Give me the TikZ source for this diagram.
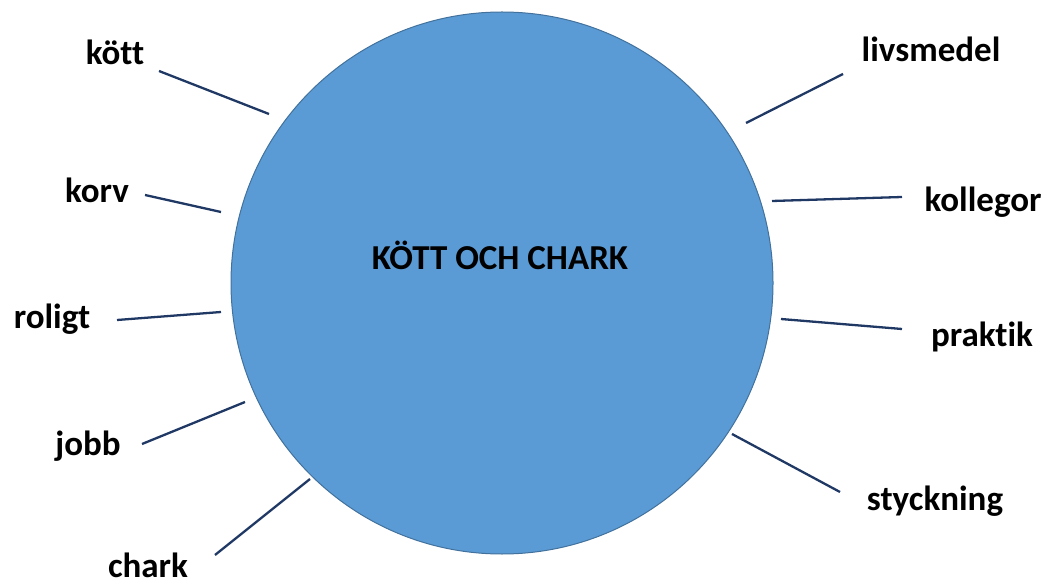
\documentclass[tikz,border=0pt]{standalone}
\usepackage{fontspec}
\setmainfont[RawFeature=-liga]{Carlito}
\usetikzlibrary{positioning}

\definecolor{hubfill}{HTML}{5B9BD5}
\definecolor{hubline}{HTML}{41719C}
\definecolor{spoke}{HTML}{1F3864}

\begin{document}
\begin{tikzpicture}[x=1pt,y=-1pt,
	hub/.style={circle,fill=hubfill,draw=hubline,line width=1pt,minimum size=542pt,inner sep=0pt},
	word/.style={font=\fontsize{35}{40}\selectfont\bfseries,inner sep=0pt,anchor=base},
	spoke/.style={draw=spoke,line width=2.3pt}]
		\useasboundingbox (0,0) rectangle (1052,585);
		\node[hub] (hub) at (502,283) {};
		\node[word] (title) at (500,270) {KÖTT OCH CHARK};

		\node[word] (wKott) at (115,65) {kött};
		\node[word] (wKorv) at (97,203) {korv};
		\node[word] (wRoligt) at (52,328) {roligt};
		\node[word] (wJobb) at (88,455) {jobb};
		\node[word] (wChark) at (148,577) {chark};
		\node[word] (wLivs) at (931,62) {livsmedel};
		\node[word] (wKoll) at (983,212) {kollegor};
		\node[word] (wPrak) at (982,346) {praktik};
		\node[word] (wStyck) at (935,510) {styckning};

		% spoke ends
		\coordinate (kA) at (159,71);  \coordinate (kB) at (269,114);
		\coordinate (rA) at (145,195); \coordinate (rB) at (221,212);
		\coordinate (lA) at (117,320); \coordinate (lB) at (221,312);
		\coordinate (jA) at (142,444); \coordinate (jB) at (245,402);
		\coordinate (cA) at (215,555); \coordinate (cB) at (310,479);
		\coordinate (vA) at (843,74);  \coordinate (vB) at (746,123);
		\coordinate (gA) at (902,197); \coordinate (gB) at (772,201);
		\coordinate (pA) at (902,329); \coordinate (pB) at (781,319);
		\coordinate (sA) at (840,492); \coordinate (sB) at (732,434);

		\path[spoke]
		(kA) edge (kB)
		(rA) edge (rB)
		(lA) edge (lB)
		(jA) edge (jB)
		(cA) edge (cB)
		(vA) edge (vB)
		(gA) edge (gB)
		(pA) edge (pB)
		(sA) edge (sB)
		;
	\end{tikzpicture}
\end{document}
